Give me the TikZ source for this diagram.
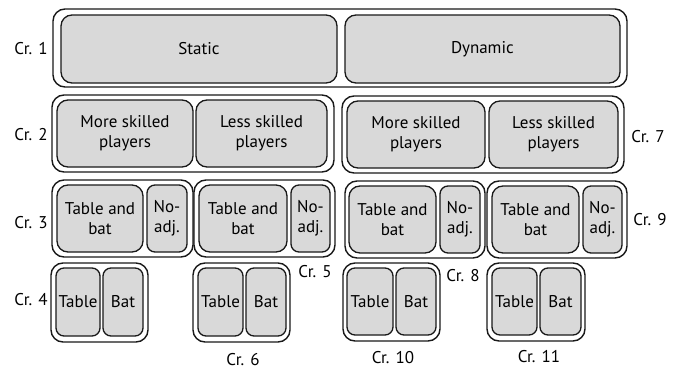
\documentclass[tikz,border=0pt]{standalone}
\usepackage{fontspec}
\setmainfont{PT Sans}
\newcommand\bx[7]{%
  \node[#6, minimum width={(#4-#2)*1pt}, minimum height={(#5-#3)*1pt}] (#1) at ({(#2+#4)/2},{(#3+#5)/2}) {#7};}
\begin{document}
\begin{tikzpicture}[x=1pt,y=-1pt,
  every node/.style={inner sep=0pt, outer sep=0pt, text=black, font=\fontsize{17}{20}\selectfont, align=center},
  outerbox/.style={draw=black!90, line width=1.4pt, fill=white, rounded corners=12pt},
  innerbox/.style={draw=black!90, line width=1.3pt, fill=black!15, rounded corners=11pt},
  narrowbox/.style={innerbox, rounded corners=8pt},
  lbl/.style={}]
\useasboundingbox (0,0) rectangle (681,370);
% Row 1
\bx{o1}{53}{9}{627}{87}{outerbox}{}
\bx{static}{61}{15}{337}{83}{innerbox}{Static}
\bx{dynamic}{345}{15}{620}{83}{innerbox}{Dynamic}
% Row 2
\bx{o2}{52}{95}{334}{172}{outerbox}{}
\bx{ms1}{57}{100}{193}{167}{innerbox}{More skilled\\players}
\bx{ls1}{196}{100}{327}{167}{innerbox}{Less skilled\\players}
\bx{o7}{342}{96}{624}{173}{outerbox}{}
\bx{ms2}{347}{101}{485}{168}{innerbox}{More skilled\\players}
\bx{ls2}{489}{101}{618}{168}{innerbox}{Less skilled\\players}
% Row 3
\bx{o3a}{52}{180}{193}{257}{outerbox}{}
\bx{tb1}{57}{185}{143}{252}{innerbox}{Table and\\bat}
\bx{na1}{147}{185}{187}{252}{narrowbox}{No-\\adj.}
\bx{o3b}{194}{180}{335}{257}{outerbox}{}
\bx{tb2}{199}{185}{287}{252}{innerbox}{Table and\\bat}
\bx{na2}{291}{185}{330}{252}{narrowbox}{No-\\adj.}
\bx{o9a}{345}{181}{485}{258}{outerbox}{}
\bx{tb3}{349}{186}{436}{253}{innerbox}{Table and\\bat}
\bx{na3}{440}{186}{480}{253}{narrowbox}{No-\\adj.}
\bx{o9b}{487}{181}{627}{258}{outerbox}{}
\bx{tb4}{492}{186}{579}{253}{innerbox}{Table and\\bat}
\bx{na4}{583}{186}{622}{253}{narrowbox}{No-\\adj.}
% Row 4
\bx{o4}{51}{263}{148}{342}{outerbox}{}
\bx{t1}{56}{268}{100}{336}{narrowbox}{Table}
\bx{b1}{103}{268}{143}{336}{narrowbox}{Bat}
\bx{o6}{193}{263}{290}{342}{outerbox}{}
\bx{t2}{198}{268}{243}{336}{narrowbox}{Table}
\bx{b2}{246}{268}{286}{336}{narrowbox}{Bat}
\bx{o10}{343}{263}{440}{341}{outerbox}{}
\bx{t3}{347}{268}{393}{335}{narrowbox}{Table}
\bx{b3}{396}{268}{436}{335}{narrowbox}{Bat}
\bx{o11}{487}{263}{585}{341}{outerbox}{}
\bx{t4}{492}{268}{537}{335}{narrowbox}{Table}
\bx{b4}{540}{268}{581}{335}{narrowbox}{Bat}
% Labels
\node[lbl] (c1) at (31,49) {Cr. 1};
\node[lbl] (c2) at (31,135) {Cr. 2};
\node[lbl] (c7) at (648,137) {Cr. 7};
\node[lbl] (c3) at (31,223) {Cr. 3};
\node[lbl] (c9) at (650,220) {Cr. 9};
\node[lbl] (c4) at (31,300) {Cr. 4};
\node[lbl] (c5) at (315,272) {Cr. 5};
\node[lbl] (c6) at (243,360) {Cr. 6};
\node[lbl] (c8) at (463,276) {Cr. 8};
\node[lbl] (c10) at (393,358) {Cr. 10};
\node[lbl] (c11) at (539,357) {Cr. 11};
\end{tikzpicture}
\end{document}
